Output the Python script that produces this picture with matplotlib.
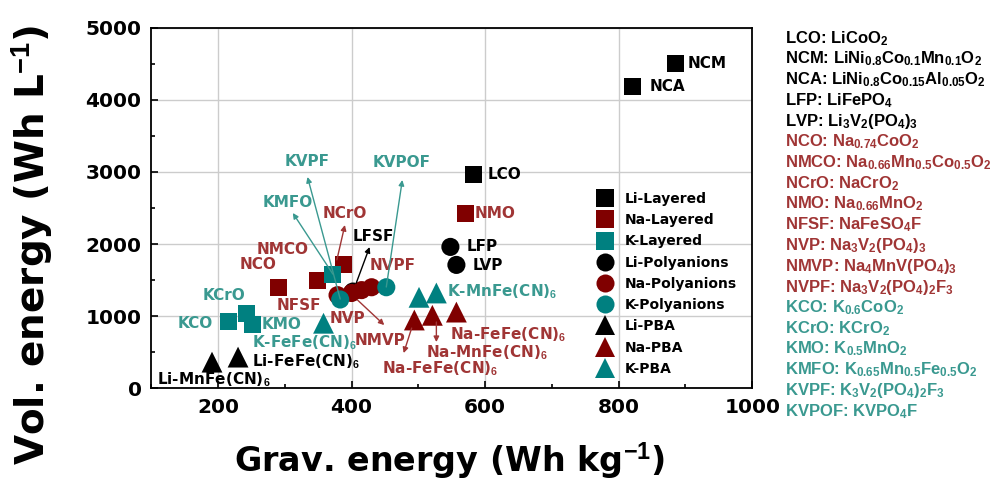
import matplotlib
matplotlib.use("Agg")
import matplotlib.pyplot as plt
from matplotlib.lines import Line2D
from matplotlib.ticker import MultipleLocator

plt.rcParams["font.family"] = ["DejaVu Sans"]
plt.rcParams["font.weight"] = "bold"
plt.rcParams["mathtext.fontset"] = "custom"
plt.rcParams["mathtext.rm"] = "Liberation Sans:bold"
plt.rcParams["mathtext.it"] = "Liberation Sans:bold"
plt.rcParams["mathtext.bf"] = "Liberation Sans:bold"

# gravimetric (Wh/kg) and volumetric (Wh/L) energy
li_layered_names = ["LCO", "NCM", "NCA"]
li_layered_grav = [582, 885, 820]
li_layered_vol = [2960, 4510, 4180]

na_layered_names = ["NCO", "NMCO", "NCrO", "NMO"]
na_layered_grav = [290, 349, 388, 570]
na_layered_vol = [1390, 1490, 1720, 2430]

k_layered_names = ["KCO", "KCrO", "KMO", "KMFO"]
k_layered_grav = [215, 243, 251, 372]
k_layered_vol = [920, 1040, 880, 1580]

li_poly_names = ["LFP", "LVP", "LFSF"]
li_poly_grav = [548, 557, 402]
li_poly_vol = [1960, 1710, 1340]

na_poly_names = ["NFSF", "NVP", "NMVP", "NVPF"]
na_poly_grav = [379, 400, 415, 430]
na_poly_vol = [1290, 1320, 1360, 1400]

k_poly_names = ["KVPF", "KVPOF"]
k_poly_grav = [383, 452]
k_poly_vol = [1230, 1400]

li_pba_names = ["Li-MnFe(CN)6", "Li-FeFe(CN)6"]
li_pba_grav = [191, 230]
li_pba_vol = [360, 430]

na_pba_names = ["Na-FeFe(CN)6", "Na-MnFe(CN)6", "Na-FeFe(CN)6"]
na_pba_grav = [494, 521, 557]
na_pba_vol = [945, 1010, 1055]

k_pba_names = ["K-FeFe(CN)6", "K-MnFe(CN)6", "K-MnFe(CN)6"]
k_pba_grav = [358, 501, 527]
k_pba_vol = [900, 1260, 1320]

formulas_li = ["LCO: LiCoO$_2$", "NCM: LiNi$_{0.8}$Co$_{0.1}$Mn$_{0.1}$O$_2$",
               "NCA: LiNi$_{0.8}$Co$_{0.15}$Al$_{0.05}$O$_2$", "LFP: LiFePO$_4$",
               "LVP: Li$_3$V$_2$(PO$_4$)$_3$"]
formulas_na = ["NCO: Na$_{0.74}$CoO$_2$", "NMCO: Na$_{0.66}$Mn$_{0.5}$Co$_{0.5}$O$_2$",
               "NCrO: NaCrO$_2$", "NMO: Na$_{0.66}$MnO$_2$", "NFSF: NaFeSO$_4$F",
               "NVP: Na$_3$V$_2$(PO$_4$)$_3$", "NMVP: Na$_4$MnV(PO$_4$)$_3$",
               "NVPF: Na$_3$V$_2$(PO$_4$)$_2$F$_3$"]
formulas_k = ["KCO: K$_{0.6}$CoO$_2$", "KCrO: KCrO$_2$", "KMO: K$_{0.5}$MnO$_2$",
              "KMFO: K$_{0.65}$Mn$_{0.5}$Fe$_{0.5}$O$_2$", "KVPF: K$_3$V$_2$(PO$_4$)$_2$F$_3$",
              "KVPOF: KVPO$_4$F"]

black = "black"
red = "#800000"
teal = "#008080"
red_txt = "#A03535"
teal_txt = "#3A9990"

fig = plt.figure(figsize=(9.95, 4.9), dpi=100)
ax = fig.add_axes([0.152, 0.208, 0.604, 0.735])

series = [
    (li_layered_grav, li_layered_vol, "s", black, 150, "Li-Layered", 3),
    (na_layered_grav, na_layered_vol, "s", red, 150, "Na-Layered", 3),
    (k_layered_grav, k_layered_vol, "s", teal, 150, "K-Layered", 4),
    (li_poly_grav, li_poly_vol, "o", black, 170, "Li-Polyanions", 3),
    (na_poly_grav, na_poly_vol, "o", red, 170, "Na-Polyanions", 4),
    (k_poly_grav, k_poly_vol, "o", teal, 170, "K-Polyanions", 5),
    (li_pba_grav, li_pba_vol, "^", black, 225, "Li-PBA", 3),
    (na_pba_grav, na_pba_vol, "^", red, 225, "Na-PBA", 4),
    (k_pba_grav, k_pba_vol, "^", teal, 225, "K-PBA", 3),
]
handles = []
for gx, gy, mk, col, size, lab, z in series:
    ax.scatter(gx, gy, marker=mk, s=size, c=col, edgecolors="none", zorder=z)
    handles.append(Line2D([], [], ls="none", marker=mk, color=col, markeredgewidth=0,
                          markersize=13 if mk != "^" else 14, label=lab))

# point labels: text, x, y, ha, colour
labels = [
    ("NCM", 904, 4510, "left", black), ("NCA", 846, 4180, "left", black),
    ("LCO", 604, 2960, "left", black), ("LFP", 573, 1960, "left", black),
    ("LVP", 582, 1695, "left", black), ("LFSF", 401, 2110, "left", black),
    ("NMO", 585, 2430, "left", red_txt), ("NCO", 260, 1710, "center", red_txt),
    ("NMCO", 297, 1930, "center", red_txt), ("NCrO", 390, 2430, "center", red_txt),
    ("NVPF", 461, 1708, "center", red_txt), ("NFSF", 321, 1153, "center", red_txt),
    ("NVP", 394, 972, "center", red_txt), ("NMVP", 442, 667, "center", red_txt),
    ("KVPF", 334, 3139, "center", teal_txt), ("KVPOF", 475, 3125, "center", teal_txt),
    ("KMFO", 305, 2583, "center", teal_txt), ("KCrO", 209, 1292, "center", teal_txt),
    ("KCO", 166, 903, "center", teal_txt), ("KMO", 295, 889, "center", teal_txt),
    ("K-FeFe(CN)$_6$", 330, 625, "center", teal_txt),
    ("K-MnFe(CN)$_6$", 543, 1333, "left", teal_txt),
    ("Li-FeFe(CN)$_6$", 251, 361, "left", black),
    ("Li-MnFe(CN)$_6$", 109, 111, "left", black),
    ("Na-FeFe(CN)$_6$", 548, 745, "left", red_txt),
    ("Na-MnFe(CN)$_6$", 512, 495, "left", red_txt),
    ("Na-FeFe(CN)$_6$", 446, 265, "left", red_txt),
]
for txt, lx, ly, ha, col in labels:
    ax.text(lx, ly, txt, ha=ha, va="center", color=col, fontsize=11,
            fontweight="bold", zorder=6)

# arrows: tail (x, y), head (x, y), colour
arrows = [
    ((378, 1780), (390, 2264), red_txt),
    ((372, 1583), (312, 2431), teal_txt),
    ((383, 1236), (334, 2931), teal_txt),
    ((452, 1403), (476, 2889), teal_txt),
    ((407, 1458), (427, 1958), black),
    ((409, 1222), (449, 875), red_txt),
    ((490, 833), (478, 486), red_txt),
    ((527, 917), (527, 639), red_txt),
]
for tail, head, col in arrows:
    ax.annotate("", xy=head, xytext=tail, zorder=7,
                arrowprops=dict(arrowstyle="-|>", color=col, lw=1.0,
                                mutation_scale=8, shrinkA=0, shrinkB=0))

ax.set_xlim(100, 1000)
ax.set_ylim(0, 5000)
ax.xaxis.set_major_locator(MultipleLocator(200))
ax.xaxis.set_minor_locator(MultipleLocator(100))
ax.yaxis.set_major_locator(MultipleLocator(1000))
ax.yaxis.set_minor_locator(MultipleLocator(500))
ax.set_xticks([200, 400, 600, 800, 1000])
ax.grid(True, which="major", color="#cccccc", lw=1.0)
ax.set_axisbelow(True)
ax.tick_params(which="both", direction="in", labelsize=14.5, width=1.2, pad=7)
ax.tick_params(which="major", length=5)
ax.tick_params(which="minor", length=3)
for lab in ax.get_xticklabels() + ax.get_yticklabels():
    lab.set_fontweight("bold")
for sp in ax.spines.values():
    sp.set_linewidth(1.3)

leg = ax.legend(handles=handles, loc="upper left", bbox_to_anchor=(0.732, 0.56),
                frameon=False, fontsize=10, labelspacing=0.52, handletextpad=0.8,
                borderaxespad=0, handlelength=1.2)
for t in leg.get_texts():
    t.set_fontweight("bold")

fig.text(0.452, 0.058, "Grav. energy (Wh kg$^{-1}$)", ha="center", va="center",
         fontsize=24, fontweight="bold")
fig.text(0.032, 0.5, "Vol. energy (Wh L$^{-1}$)", ha="center", va="center",
         rotation=90, fontsize=28, fontweight="bold")

lines = [(f, black) for f in formulas_li] + [(f, red_txt) for f in formulas_na] + \
        [(f, teal_txt) for f in formulas_k]
for i, (txt, col) in enumerate(lines):
    fig.text(785 / 995, 1 - (43 + 20.72 * i) / 490, txt, ha="left", va="baseline",
             color=col, fontsize=12, family="Liberation Sans", fontweight="bold")

fig.savefig("out.png", dpi=100)
